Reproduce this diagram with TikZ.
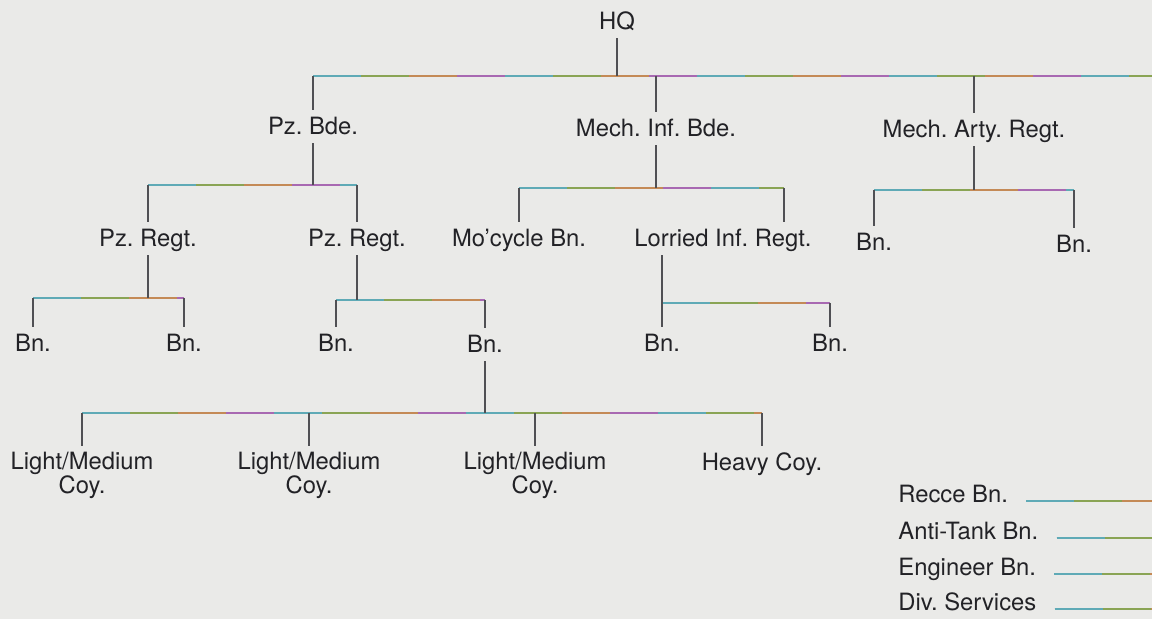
\documentclass[tikz,border=0pt]{standalone}
\usepackage{fontspec}
\setmainfont{TeX Gyre Heros}
\usetikzlibrary{calc,positioning}
\definecolor{paper}{RGB}{234,234,232}
\definecolor{ink}{RGB}{34,34,38}
\definecolor{stem}{RGB}{80,80,84}
\definecolor{barmauve}{RGB}{168,105,178}
\definecolor{barteal}{RGB}{95,170,182}
\definecolor{bargreen}{RGB}{138,164,84}
\definecolor{barochre}{RGB}{196,138,86}
\newcommand{\orgfont}{\fontsize{11.9}{12}\selectfont}
\tikzset{
  unit/.style={font=\orgfont, text=ink, anchor=base, inner xsep=1pt, inner ysep=4pt, text height=8.5pt, text depth=0pt},
  coy/.style={font=\orgfont, text=ink, anchor=north, inner xsep=1pt, inner ysep=3pt, align=center},
  key/.style={font=\orgfont, text=ink, anchor=base west, inner sep=0pt},
  stemline/.style={draw=stem, line width=0.6pt},
  hbar/.style={draw=barmauve, line width=0.9pt,
    postaction={draw=barteal, dash pattern=on 24pt off 72pt},
    postaction={draw=bargreen, dash pattern=on 24pt off 72pt, dash phase=72pt},
    postaction={draw=barochre, dash pattern=on 24pt off 72pt, dash phase=48pt}}
}

\begin{document}
\frenchspacing
\begin{tikzpicture}[x=0.5pt,y=-0.5pt]
  \fill[paper] (0,0) rectangle (1152,619);
  \useasboundingbox (0,0) rectangle (1152,619);
  % HQ and brigades
  \node[unit] (hq) at (617,30) {HQ};
  \node[unit] (pzbde) at (313,135) {Pz. Bde.};
  \node[unit] (mechinf) at (656,137) {Mech. Inf. Bde.};
  \node[unit] (arty) at (974,138) {Mech. Arty. Regt.};
  \coordinate (hqend) at (1152,76);
  \draw[hbar] (pzbde.north |- hqend) -- (hqend);
  \draw[stemline] (hq.south) -- (hq.south |- hqend);
  \foreach \b in {pzbde,mechinf,arty}
    \draw[stemline] (\b.north |- hqend) -- (\b.north);
  % regiments
  \node[unit] (pzregtA) at (148,247) {Pz. Regt.};
  \node[unit] (pzregtB) at (357,247) {Pz. Regt.};
  \node[unit] (mocycle) at (519,247) {Mo’cycle Bn.};
  \node[unit] (lorried) at (723,247) {Lorried Inf. Regt.};
  \node[unit] (artybnA) at (874,251) {Bn.};
  \node[unit] (artybnB) at (1074,253) {Bn.};
  \coordinate (lorriedin) at ($(lorried.north east)+(-15pt,0)$);
  \coordinate (lorriedout) at ($(lorried.south west)+(15pt,0)$);
  \draw[hbar] (pzregtA.north |- 0,185) -- (pzregtB.north |- 0,185);
  \draw[stemline] (pzbde.south) -- (pzbde.south |- 0,185);
  \foreach \c in {pzregtA,pzregtB}
    \draw[stemline] (\c.north |- 0,185) -- (\c.north);
  \draw[hbar] (mocycle.north |- 0,188) -- (lorriedin |- 0,188);
  \draw[stemline] (mechinf.south) -- (mechinf.south |- 0,188);
  \draw[stemline] (mocycle.north |- 0,188) -- (mocycle.north);
  \draw[stemline] (lorriedin |- 0,188) -- (lorriedin);
  \draw[hbar] (artybnA.north |- 0,190) -- (artybnB.north |- 0,190);
  \draw[stemline] (arty.south) -- (arty.south |- 0,190);
  \foreach \c in {artybnA,artybnB}
    \draw[stemline] (\c.north |- 0,190) -- (\c.north);
  % battalions
  \node[unit] (bnA) at (33,352) {Bn.};
  \node[unit] (bnB) at (184,352) {Bn.};
  \node[unit] (bnC) at (336,352) {Bn.};
  \node[unit] (bnD) at (485,353) {Bn.};
  \node[unit] (bnE) at (662,352) {Bn.};
  \node[unit] (bnF) at (830,352) {Bn.};
  \draw[hbar] (bnA.north |- 0,298) -- (bnB.north |- 0,298);
  \draw[stemline] (pzregtA.south) -- (pzregtA.south |- 0,298);
  \draw[hbar] (bnC.north |- 0,300) -- (bnD.north |- 0,300);
  \draw[stemline] (pzregtB.south) -- (pzregtB.south |- 0,300);
  \draw[hbar] (lorriedout |- 0,303) -- (bnF.north |- 0,303);
  \draw[stemline] (lorriedout) -- (lorriedout |- 0,303);
  \foreach \c/\y in {bnA/298,bnB/298,bnC/300,bnD/300,bnE/303,bnF/303}
    \draw[stemline] (\c.north |- 0,\y) -- (\c.north);
  % companies
  \node[coy] (coyA) at (82,446) {Light/Medium\\Coy.};
  \node[coy] (coyB) at (309,446) {Light/Medium\\Coy.};
  \node[coy] (coyC) at (535,446) {Light/Medium\\Coy.};
  \node[coy] (heavy) at (762,446) {Heavy Coy.};
  \draw[hbar] (coyA.north |- 0,413) -- (heavy.north |- 0,413);
  \draw[stemline] (bnD.south) -- (bnD.south |- 0,413);
  \foreach \c in {coyA,coyB,coyC,heavy}
    \draw[stemline] (\c.north |- 0,413) -- (\c.north);
  % key
  \node[key] (recce) at (898,503) {Recce Bn.};
  \node[key] (antitank) at (898,540) {Anti-Tank Bn.};
  \node[key] (engineer) at (898,576) {Engineer Bn.};
  \node[key] (services) at (898,611) {Div. Services};
  \foreach \k/\y in {recce/501,antitank/538,engineer/574,services/609}{
    \coordinate (\k end) at (1152,\y);
    \draw[hbar] ($(\k end -| \k.east)+(9pt,0)$) -- (\k end);
  }
\end{tikzpicture}
\end{document}
